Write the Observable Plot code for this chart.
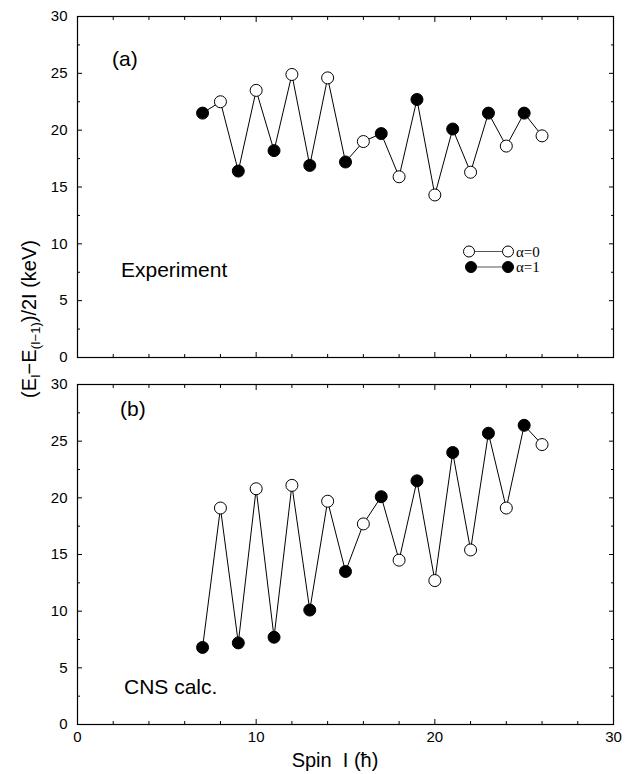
<!DOCTYPE html>
<html>
<head>
<meta charset="utf-8">
<script src="https://cdn.jsdelivr.net/npm/d3@7"></script>
<script src="https://cdn.jsdelivr.net/npm/@observablehq/plot@0.6"></script>
<style>
  html, body { margin: 0; padding: 0; background: #fff; }
  #wrap { position: relative; width: 630px; height: 774px; font-family: "Liberation Sans", Arial, Helvetica, sans-serif; color: #000; }
  .abs { position: absolute; white-space: nowrap; line-height: 1; }
  #top { position: absolute; left: 0; top: 0; }
  #bot { position: absolute; left: 0; top: 370px; }
  #ylab { position: absolute; left: 30px; top: 319px; transform: translate(-50%, -50%) rotate(-90deg); font-size: 20px; white-space: nowrap; }
  #ylab sub { font-size: 13px; vertical-align: -4px; }
  #xlab { position: absolute; left: 335px; top: 760px; transform: translate(-50%, -50%); font-size: 20px; white-space: nowrap; }
  .panel { font-size: 21px; }
</style>
</head>
<body>
<div id="wrap">
  <div id="top"></div>
  <div id="bot"></div>
  <div id="ylab">(E<sub>I</sub>−E<sub>(I−1)</sub>)/2I (keV)</div>
  <div id="xlab">Spin&nbsp;&nbsp;I (ħ)</div>
  <div class="abs panel" style="left:112px; top:48px;">(a)</div>
  <div class="abs panel" style="left:121px; top:259px;">Experiment</div>
  <div class="abs panel" style="left:120px; top:398px;">(b)</div>
  <div class="abs panel" style="left:124px; top:676px;">CNS calc.</div>
  <svg class="abs" style="left:450px; top:240px;" width="120" height="40">
    <line x1="19" y1="11.5" x2="58" y2="11.5" stroke="#555" stroke-width="1.2"/>
    <circle cx="19" cy="11.5" r="5.5" fill="#fff" stroke="#000" stroke-width="1"/>
    <circle cx="58" cy="11.5" r="5.5" fill="#fff" stroke="#000" stroke-width="1"/>
    <line x1="21" y1="27" x2="58" y2="27" stroke="#555" stroke-width="1.2"/>
    <circle cx="21" cy="27" r="5.5" fill="#000" stroke="#000" stroke-width="1"/>
    <circle cx="58" cy="27" r="5.5" fill="#000" stroke="#000" stroke-width="1"/>
    <text x="66" y="16.5" font-family="Liberation Serif, Times New Roman, serif" font-size="15">α=0</text>
    <text x="66" y="32" font-family="Liberation Serif, Times New Roman, serif" font-size="15">α=1</text>
  </svg>
</div>
<script>
// Spin values I (ħ)
const spin = [7, 8, 9, 10, 11, 12, 13, 14, 15, 16, 17, 18, 19, 20, 21, 22, 23, 24, 25, 26];
// (a) Experiment, keV
const experiment = [21.5, 22.5, 16.4, 23.5, 18.2, 24.9, 16.9, 24.6, 17.2, 19.0, 19.7, 15.9, 22.7, 14.3, 20.1, 16.3, 21.5, 18.6, 21.5, 19.5];
// (b) CNS calculation, keV
const cnsCalc = [6.8, 19.1, 7.2, 20.8, 7.7, 21.1, 10.1, 19.7, 13.5, 17.7, 20.1, 14.5, 21.5, 12.7, 24.0, 15.4, 25.7, 19.1, 26.4, 24.7];
// signature alpha for each spin
const alpha = [1, 0, 1, 0, 1, 0, 1, 0, 1, 0, 1, 0, 1, 0, 1, 0, 1, 0, 1, 0];

const xMajor = [0, 10, 20, 30];
const xMinor = [2, 4, 6, 8, 12, 14, 16, 18, 22, 24, 26, 28];
const yMajor = [0, 5, 10, 15, 20, 25, 30];
const yMinor = [2.5, 7.5, 12.5, 17.5, 22.5, 27.5];

function panel(values, opts) {
  const data = spin.map((s, i) => ({I: s, E: values[i], a: alpha[i]}));
  return Plot.plot({
    width: 630,
    height: opts.height,
    marginTop: opts.marginTop,
    marginBottom: opts.marginBottom,
    marginLeft: 77,
    marginRight: 17,
    x: {domain: [0, 30]},
    y: {domain: [0, 30]},
    style: {fontFamily: '"Liberation Sans", Arial, Helvetica, sans-serif', fontSize: "15px", color: "#000", background: "transparent", overflow: "visible"},
    marks: [
      Plot.frame({stroke: "#000", strokeWidth: 1.2}),
      Plot.axisY(yMajor, {anchor: "left", tickSize: 0, tickPadding: 10, label: null, tickFormat: d => String(d)}),
      Plot.axisY(yMajor, {anchor: "left", tickSize: -5, text: null, label: null}),
      Plot.axisY(yMinor, {anchor: "left", tickSize: -3, text: null, label: null}),
      Plot.axisY(yMajor, {anchor: "right", tickSize: -5, text: null, label: null}),
      Plot.axisY(yMinor, {anchor: "right", tickSize: -3, text: null, label: null}),
      opts.xLabels
        ? Plot.axisX(xMajor, {anchor: "bottom", tickSize: 0, tickPadding: 7, label: null, tickFormat: d => String(d)})
        : null,
      Plot.axisX(xMajor, {anchor: "bottom", tickSize: -5, text: null, label: null}),
      Plot.axisX(xMinor, {anchor: "bottom", tickSize: -3, text: null, label: null}),
      Plot.axisX(xMajor, {anchor: "top", tickSize: -5, text: null, label: null}),
      Plot.axisX(xMinor, {anchor: "top", tickSize: -3, text: null, label: null}),
      Plot.line(data, {x: "I", y: "E", stroke: "#000", strokeWidth: 1}),
      Plot.dot(data, {x: "I", y: "E", r: 6, stroke: "#000", strokeWidth: 1, fill: d => d.a === 1 ? "#000" : "#fff"})
    ]
  });
}

document.getElementById("top").appendChild(panel(experiment, {height: 370, marginTop: 16, marginBottom: 13, xLabels: false}));
document.getElementById("bot").appendChild(panel(cnsCalc, {height: 404, marginTop: 14, marginBottom: 50, xLabels: true}));
</script>
</body>
</html>
